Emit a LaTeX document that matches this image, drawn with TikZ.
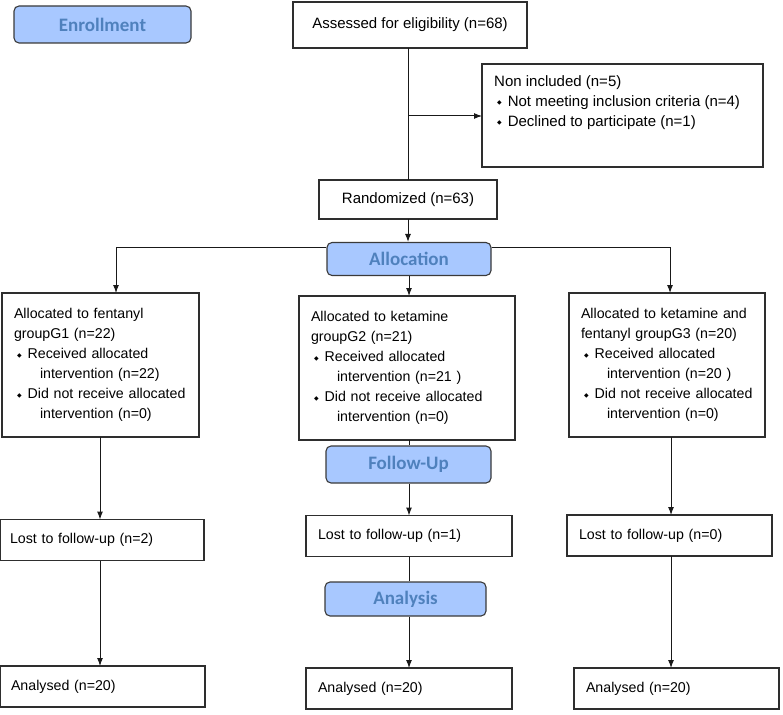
\documentclass[tikz,border=0pt]{standalone}
\usepackage{fontspec}
\setmainfont{Liberation Sans}
\newfontfamily\carl{Carlito}
\newfontfamily\dejavu{DejaVu Sans}
\usetikzlibrary{arrows.meta,calc}
\definecolor{lblfill}{HTML}{A8C8FF}
\definecolor{lbltext}{HTML}{4F81BD}
\definecolor{lbldraw}{HTML}{3A3A3A}
\definecolor{boxdraw}{HTML}{2E2E2E}
\newcommand{\bul}{\hspace*{3pt}{\dejavu\fontsize{6}{6}\selectfont\raisebox{0.35ex}{◆}}\hspace{6pt}}
\newcommand{\ind}{\hspace*{26pt}}
\begin{document}
\begin{tikzpicture}[x=1pt,y=1pt,
  box/.style={draw=boxdraw, line width=1.1pt, inner ysep=0pt, inner xsep=12pt, outer sep=0pt, font=\fontsize{14.2}{20}\selectfont, align=left},
  bigfont/.style={font=\fontsize{15}{20}\selectfont},
  txt/.style={inner sep=0pt, font=\fontsize{15}{20}\selectfont, align=left},
  lbl/.style={draw=lbldraw, line width=1.1pt, fill=lblfill, rounded corners=5pt, text=lbltext, font=\carl\bfseries\fontsize{19}{19}\selectfont, inner sep=0pt},
  arr/.style={line width=1pt, draw=black!90, -{Latex[length=8pt,width=6pt]}},
  ln/.style={line width=1pt, draw=black!90}]
\useasboundingbox (0,0) rectangle (783,-714);
% phase labels
\node[lbl, minimum width=177, minimum height=37] (enr) at (102.5,-24.5) {Enrollment};
\node[lbl, minimum width=164, minimum height=33] (alloc) at (409,-259) {Allocation};
\node[lbl, minimum width=165, minimum height=37] (fu) at (408.5,-464.5) {Follow-Up};
\node[lbl, minimum width=161, minimum height=34] (ana) at (405.5,-599) {Analysis};
% boxes
\node[box, bigfont, minimum width=234, minimum height=46, align=center] (ass) at (410,-25) {Assessed for eligibility (n=68)};
\node[box, minimum width=281, minimum height=103] (noninc) at (622.5,-115.5) {};
\node[txt, anchor=north west] (nonint) at ($(noninc.north west)+(12,-11)$) {Non included (n=5)\\
\bul Not meeting inclusion criteria (n=4)\\
\bul Declined to participate (n=1)};
\node[box, bigfont, minimum width=178, minimum height=39, align=center] (rand) at (408,-199.5) {Randomized (n=63)};
\node[box, minimum width=197, minimum height=144, text width=173] (g1) at (100.5,-365) {Allocated to fentanyl\\
groupG1 (n=22)\\
\bul Received allocated\\
\ind intervention (n=22)\\
\bul Did not receive allocated\\
\ind intervention (n=0)};
\node[box, minimum width=216, minimum height=144, text width=192] (g2) at (407,-368) {Allocated to ketamine\\
groupG2 (n=21)\\
\bul Received allocated\\
\ind intervention (n=21 )\\
\bul Did not receive allocated\\
\ind intervention (n=0)};
\node[box, minimum width=196, minimum height=144, text width=172] (g3) at (667,-365) {Allocated to ketamine and\\
fentanyl groupG3 (n=20)\\
\bul Received allocated\\
\ind intervention (n=20 )\\
\bul Did not receive allocated\\
\ind intervention (n=0)};
\node[box, minimum width=204, minimum height=41, text width=184, inner xsep=10pt] (lost1) at (102,-540) {Lost to follow-up (n=2)};
\node[box, minimum width=206, minimum height=41, text width=182] (lost2) at (409,-536) {Lost to follow-up (n=1)};
\node[box, minimum width=205, minimum height=41, text width=181] (lost3) at (669.5,-535.5) {Lost to follow-up (n=0)};
\node[box, minimum width=205, minimum height=41, text width=183, inner xsep=11pt] (an1) at (102.5,-686.5) {Analysed (n=20)};
\node[box, minimum width=206, minimum height=41, text width=182] (an2) at (409,-688.5) {Analysed (n=20)};
\node[box, minimum width=205, minimum height=41, text width=181] (an3) at (676.5,-688.5) {Analysed (n=20)};
% connectors
\coordinate (j1) at (408,-116);
\coordinate (bL) at (116,-247);
\coordinate (bR) at (670,-247);
\coordinate (cL) at (100,0);
\coordinate (cM) at (409,0);
\coordinate (cR) at (671,0);
\draw[ln] (rand.north|-ass.south) -- (rand.north);
\draw[arr] (j1) -- (j1-|noninc.west);
\draw[arr] (rand.south) -- (rand.south|-alloc.north);
\draw[ln] (bL-|alloc.west) -- (bL);
\draw[arr] (bL) -- (bL|-g1.north);
\draw[ln] (bR-|alloc.east) -- (bR);
\draw[arr] (bR) -- (bR|-g3.north);
\draw[arr] (cM|-alloc.south) -- (cM|-g2.north);
\draw[ln] (cM|-g2.south) -- (cM|-fu.north);
\draw[arr] (cM|-fu.south) -- (cM|-lost2.north);
\draw[ln] (cM|-lost2.south) -- (cM|-ana.north);
\draw[arr] (cM|-ana.south) -- (cM|-an2.north);
\draw[arr] (cL|-g1.south) -- (cL|-lost1.north);
\draw[arr] (cL|-lost1.south) -- (cL|-an1.north);
\draw[arr] (cR|-g3.south) -- (cR|-lost3.north);
\draw[arr] (cR|-lost3.south) -- (cR|-an3.north);
\end{tikzpicture}
\end{document}
